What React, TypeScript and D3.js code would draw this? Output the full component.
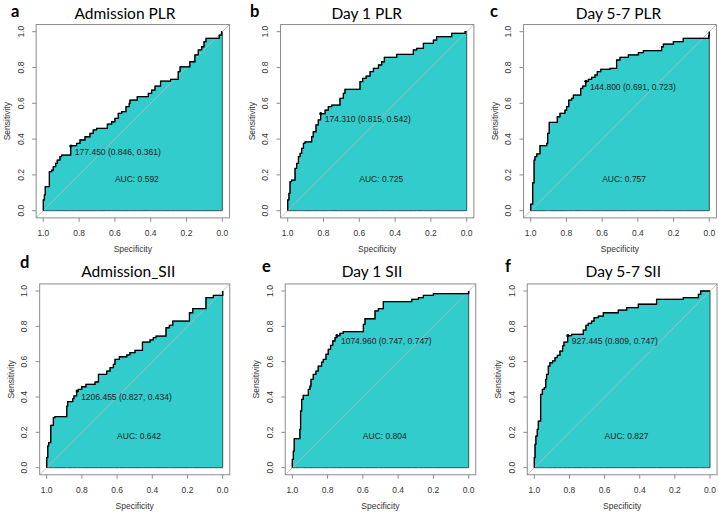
import React from "react";
import * as d3 from "d3";

// ---- data ----
const letters = ["a", "b", "c", "d", "e", "f"];
const titles = ["Admission PLR", "Day 1 PLR", "Day 5-7 PLR", "Admission_SII", "Day 1 SII", "Day 5-7 SII"];
const aucValues = [0.592, 0.725, 0.757, 0.642, 0.804, 0.827];
const thresholdValues = [177.45, 174.31, 144.8, 1206.455, 1074.96, 927.445];
const thresholdSpec = [0.846, 0.815, 0.691, 0.827, 0.747, 0.809];
const thresholdSens = [0.361, 0.542, 0.723, 0.434, 0.747, 0.747];
const tickValues = [0, 0.2, 0.4, 0.6, 0.8, 1.0];

const specA = [1.0, 1.0, 0.994, 0.989, 0.966, 0.953, 0.944, 0.931, 0.922, 0.907, 0.898, 0.847, 0.814, 0.795, 0.767, 0.739, 0.721, 0.702, 0.642, 0.618, 0.6, 0.581, 0.562, 0.538, 0.52, 0.516, 0.475, 0.413, 0.395, 0.376, 0.345, 0.289, 0.246, 0.236, 0.181, 0.153, 0.134, 0.115, 0.102, 0.091, 0.017, 0.004, 0];
const sensA = [0, 0.06, 0.088, 0.134, 0.218, 0.227, 0.246, 0.264, 0.283, 0.302, 0.311, 0.363, 0.376, 0.395, 0.413, 0.432, 0.451, 0.46, 0.484, 0.497, 0.516, 0.544, 0.553, 0.581, 0.6, 0.618, 0.637, 0.655, 0.674, 0.696, 0.724, 0.734, 0.777, 0.804, 0.832, 0.87, 0.898, 0.916, 0.944, 0.963, 0.981, 1.0, 1.0];

const specB = [1.0, 1.0, 0.993, 0.987, 0.978, 0.959, 0.95, 0.94, 0.931, 0.922, 0.912, 0.903, 0.866, 0.857, 0.842, 0.829, 0.816, 0.791, 0.773, 0.754, 0.708, 0.689, 0.68, 0.596, 0.581, 0.562, 0.54, 0.521, 0.493, 0.475, 0.46, 0.391, 0.298, 0.279, 0.242, 0.186, 0.168, 0.084, 0.009, 0];
const sensB = [0, 0.06, 0.097, 0.162, 0.171, 0.236, 0.264, 0.302, 0.32, 0.348, 0.376, 0.385, 0.413, 0.441, 0.479, 0.507, 0.542, 0.562, 0.581, 0.59, 0.628, 0.655, 0.678, 0.721, 0.739, 0.752, 0.777, 0.795, 0.814, 0.832, 0.857, 0.873, 0.898, 0.907, 0.935, 0.953, 0.972, 0.991, 1.0, 1.0];

const specC = [1.0, 1.0, 0.989, 0.981, 0.976, 0.966, 0.948, 0.91, 0.905, 0.896, 0.851, 0.836, 0.808, 0.799, 0.787, 0.771, 0.761, 0.72, 0.709, 0.692, 0.677, 0.659, 0.64, 0.627, 0.608, 0.556, 0.519, 0.5, 0.453, 0.397, 0.369, 0.267, 0.257, 0.201, 0.146, 0.003, 0];
const sensC = [0, 0.037, 0.156, 0.283, 0.302, 0.317, 0.363, 0.376, 0.432, 0.493, 0.525, 0.544, 0.562, 0.581, 0.618, 0.628, 0.646, 0.683, 0.696, 0.723, 0.734, 0.745, 0.758, 0.777, 0.79, 0.795, 0.842, 0.857, 0.87, 0.883, 0.894, 0.916, 0.931, 0.944, 0.963, 0.98, 1.0];

const specD = [1.0, 1.0, 0.994, 0.989, 0.977, 0.962, 0.953, 0.886, 0.881, 0.852, 0.845, 0.83, 0.82, 0.801, 0.777, 0.725, 0.706, 0.659, 0.64, 0.621, 0.612, 0.587, 0.545, 0.527, 0.498, 0.456, 0.413, 0.394, 0.379, 0.322, 0.303, 0.284, 0.189, 0.17, 0.095, 0.053, 0];
const sensD = [0, 0.057, 0.123, 0.142, 0.24, 0.283, 0.289, 0.349, 0.374, 0.391, 0.406, 0.434, 0.443, 0.458, 0.472, 0.485, 0.528, 0.547, 0.566, 0.585, 0.613, 0.628, 0.638, 0.651, 0.664, 0.711, 0.723, 0.736, 0.745, 0.792, 0.806, 0.83, 0.877, 0.9, 0.962, 0.975, 1.0];

const specE = [1.0, 1.0, 0.994, 0.989, 0.957, 0.953, 0.947, 0.938, 0.909, 0.9, 0.894, 0.881, 0.866, 0.853, 0.834, 0.824, 0.809, 0.796, 0.783, 0.771, 0.758, 0.747, 0.73, 0.711, 0.597, 0.588, 0.531, 0.512, 0.484, 0.323, 0.285, 0.257, 0.2, 0];
const sensE = [0, 0.047, 0.094, 0.164, 0.217, 0.321, 0.387, 0.409, 0.443, 0.462, 0.5, 0.528, 0.547, 0.575, 0.598, 0.613, 0.642, 0.67, 0.692, 0.717, 0.736, 0.747, 0.76, 0.77, 0.811, 0.843, 0.887, 0.9, 0.94, 0.953, 0.962, 0.975, 0.985, 1.0];

const specF = [1.0, 1.0, 0.996, 0.991, 0.983, 0.977, 0.964, 0.954, 0.943, 0.935, 0.93, 0.92, 0.911, 0.896, 0.882, 0.869, 0.854, 0.839, 0.831, 0.81, 0.787, 0.721, 0.706, 0.693, 0.674, 0.66, 0.636, 0.607, 0.522, 0.474, 0.408, 0.304, 0.152, 0.066, 0.053, 0];
const sensF = [0, 0.057, 0.132, 0.179, 0.217, 0.264, 0.415, 0.443, 0.453, 0.5, 0.528, 0.575, 0.594, 0.604, 0.623, 0.636, 0.66, 0.689, 0.711, 0.747, 0.755, 0.779, 0.806, 0.817, 0.83, 0.849, 0.858, 0.877, 0.892, 0.906, 0.925, 0.953, 0.962, 0.981, 1.0, 1.0];

const specSeries = [specA, specB, specC, specD, specE, specF];
const sensSeries = [sensA, sensB, sensC, sensD, sensE, sensF];

// ---- layout (pixel extents of the data region of each panel) ----
const layout = [
  { x1: 43.3, x0: 222.3, yT: 31.7, yB: 210.7, lx: 11, ly: 17, tx: 125, ty: 18.5 },
  { x1: 287.7, x0: 466.7, yT: 31.7, yB: 210.7, lx: 250, ly: 17, tx: 366.7, ty: 18.5 },
  { x1: 530.7, x0: 709.3, yT: 31.7, yB: 210.7, lx: 490, ly: 17, tx: 618.5, ty: 18.5 },
  { x1: 46.7, x0: 222.7, yT: 291, yB: 467.7, lx: 20, ly: 268, tx: 128.3, ty: 276.5 },
  { x1: 292.3, x0: 468.7, yT: 291, yB: 467.7, lx: 262, ly: 272, tx: 372, ty: 276.5 },
  { x1: 534.3, x0: 710, yT: 291, yB: 467.7, lx: 505, ly: 272, tx: 623.3, ty: 276.5 },
];

const FILL = "#33CCCC";
const SMALL = "'Liberation Sans', Arial, sans-serif";
const TITLE = "Lato, 'Open Sans', sans-serif";
const fmt1 = d3.format(".1f");
const fmt3 = d3.format(".3f");

function Panel({ i }: { i: number }) {
  const L = layout[i];
  const x = d3.scaleLinear().domain([1, 0]).range([L.x1, L.x0]);
  const y = d3.scaleLinear().domain([0, 1]).range([L.yB, L.yT]);
  const pts: [number, number][] = specSeries[i].map((s, k) => [s, sensSeries[i][k]]);
  const area = d3
    .area<[number, number]>()
    .x((d) => x(d[0]))
    .y0(y(0))
    .y1((d) => y(d[1]))
    .curve(d3.curveStepAfter);
  const line = d3
    .line<[number, number]>()
    .x((d) => x(d[0]))
    .y((d) => y(d[1]))
    .curve(d3.curveStepAfter);
  const bx0 = x(1.04), bx1 = x(-0.04), by0 = y(-0.04), by1 = y(1.04);
  const tk = 4;
  return (
    <g>
      <text x={L.lx} y={L.ly} fontFamily={TITLE} fontWeight={700} fontSize={16.5} fill="#000">
        {letters[i]}
      </text>
      <text x={L.tx} y={L.ty} textAnchor="middle" fontFamily={TITLE} fontSize={15.5} fill="#000">
        {titles[i]}
      </text>
      <path d={area(pts) + "Z"} fill={FILL} stroke="#2f5656" strokeWidth={1} />
      <line x1={bx0} y1={by0} x2={bx1} y2={by1} stroke="#b8b8b8" strokeWidth={0.8} />
      <path d={line(pts) || ""} fill="none" stroke="#000" strokeWidth={1.3} />
      <circle cx={x(thresholdSpec[i])} cy={y(thresholdSens[i])} r={1.6} fill="#000" />
      <text
        x={x(thresholdSpec[i]) + 4}
        y={y(thresholdSens[i]) + 8.5}
        fontFamily={SMALL}
        fontSize={8.5}
        fill="#222"
      >
        {`${fmt3(thresholdValues[i])} (${fmt3(thresholdSpec[i])}, ${fmt3(thresholdSens[i])})`}
      </text>
      <text x={x(0.6)} y={y(0.162)} fontFamily={SMALL} fontSize={8.5} fill="#222">
        {`AUC: ${fmt3(aucValues[i])}`}
      </text>
      <rect x={bx0} y={by1} width={bx1 - bx0} height={by0 - by1} fill="none" stroke="#8c8c8c" strokeWidth={1} />
      {tickValues.map((t) => (
        <g key={"x" + t}>
          <line x1={x(t)} x2={x(t)} y1={by0} y2={by0 + tk} stroke="#8c8c8c" />
          <text x={x(t)} y={by0 + 18.5} textAnchor="middle" fontFamily={SMALL} fontSize={8.5} fill="#333">
            {fmt1(t)}
          </text>
        </g>
      ))}
      {tickValues.map((t) => (
        <g key={"y" + t}>
          <line x1={bx0 - tk} x2={bx0} y1={y(t)} y2={y(t)} stroke="#8c8c8c" />
          <text
            transform={`translate(${bx0 - 12.5},${y(t)}) rotate(-90)`}
            textAnchor="middle"
            fontFamily={SMALL}
            fontSize={8.5}
            fill="#333"
          >
            {fmt1(t)}
          </text>
        </g>
      ))}
      <text x={(bx0 + bx1) / 2} y={by0 + 34} textAnchor="middle" fontFamily={SMALL} fontSize={8.5} fill="#333">
        Specificity
      </text>
      <text
        transform={`translate(${bx0 - 26},${(by0 + by1) / 2}) rotate(-90)`}
        textAnchor="middle"
        fontFamily={SMALL}
        fontSize={8.5}
        fill="#333"
      >
        Sensitivity
      </text>
    </g>
  );
}

export default function App() {
  return (
    <svg
      width={719}
      height={512}
      viewBox="0 0 719 512"
      style={{ position: "absolute", left: 0, top: 0, background: "#fff" }}
    >
      <rect x={0} y={0} width={719} height={512} fill="#fff" />
      {layout.map((_, i) => (
        <Panel key={i} i={i} />
      ))}
    </svg>
  );
}
